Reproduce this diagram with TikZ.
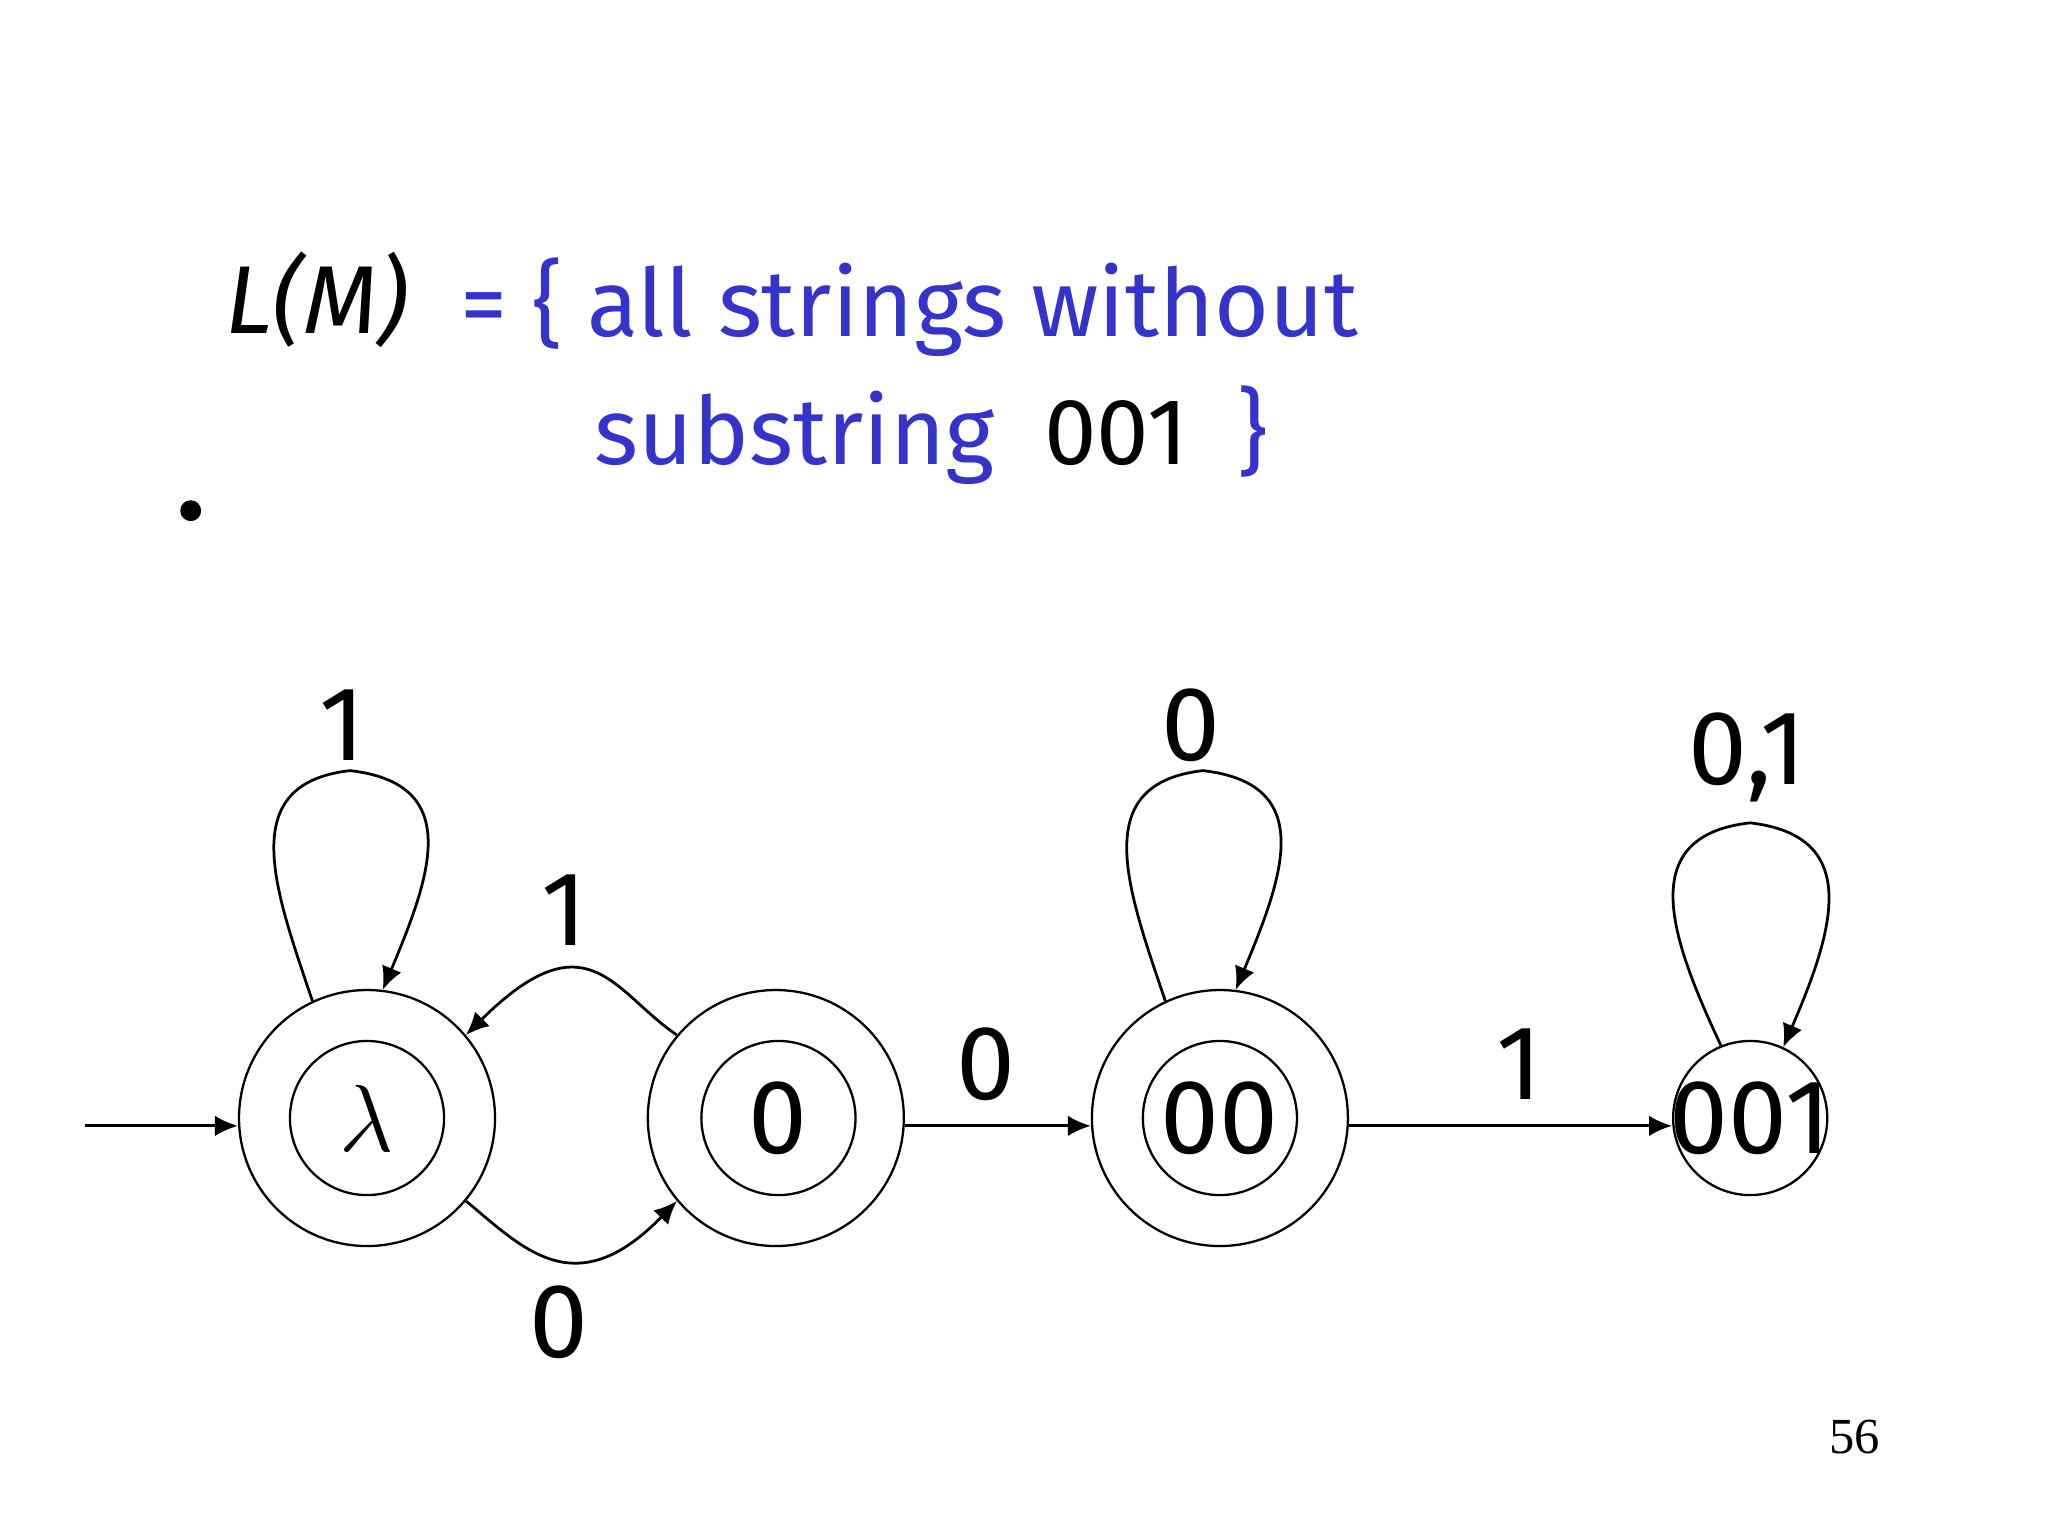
\documentclass[tikz,border=0pt]{standalone}
\usepackage{fontspec}
\setmainfont{Liberation Serif}
\newfontfamily\hand{Fira Sans}
\usetikzlibrary{arrows.meta}
\definecolor{tblue}{RGB}{52,52,204}
\begin{document}
\begin{tikzpicture}[x=0.01cm,y=-0.01cm,
  st/.style={circle,draw,line width=0.5pt,inner sep=0pt},
  lab/.style={font=\hand\fontsize{23}{28}\selectfont},
  ed/.style={-{Latex[length=5pt,width=4.5pt]},line width=0.6pt}]
\useasboundingbox (0,0) rectangle (1568,1176);
% title
\node[anchor=base west,font=\hand\itshape\fontsize{21}{26}\selectfont] (lm) at (160,255) {L(M)};
\node[anchor=base west,font=\hand\fontsize{20.5}{26}\selectfont,text=tblue] (t1) at (340,258) {= \{ all strings without};
\node[anchor=base west,font=\hand\fontsize{20.5}{26}\selectfont,text=tblue] (t2) at (443,356) {substring\ \ \textcolor{black}{001}\ \ \}};
\fill (146,391) circle (8);
% states
\node[st,minimum size=196*0.01cm] (l) at (281,856) {};
\node[st,minimum size=118*0.01cm] (li) at (281,856) {\fontsize{22}{26}\selectfont$\lambda$};
\node[st,minimum size=196*0.01cm] (z) at (594,856) {};
\node[st,minimum size=118*0.01cm,lab] (zi) at (596,856) {0};
\node[st,minimum size=196*0.01cm] (zz) at (934,856) {};
\node[st,minimum size=118*0.01cm,lab] (zzi) at (934,856) {00};
\node[st,minimum size=118*0.01cm] (f) at (1340,856) {};
\node[lab] (ft) at (1340,856) {001};
\coordinate (s) at (65,862);
\draw[ed] (s) -- (l.west|-s);
% transitions
\draw[ed] (l.-40) .. controls (400,955) and (440,1000) .. (z.220);
\node[lab] (a0) at (428,1012) {0};
\draw[ed] (z.140) .. controls (470,760) and (450,700) .. (l.40);
\node[lab] (a1) at (432,697) {1};
\draw[ed] (z.east|-s) -- (zz.west|-s);
\node[lab] (b0) at (755,815) {0};
\draw[ed] (zz.east|-s) -- (f.west|-s);
\node[lab] (c1) at (1163,815) {1};
% loops
\draw[ed] (l.115) .. controls (210,680) and (180,600) .. (268,590) .. controls (355,600) and (330,670) .. (l.83);
\node[lab] (d1) at (262,555) {1};
\draw[ed] (zz.115) .. controls (863,680) and (833,600) .. (921,590) .. controls (1008,600) and (983,670) .. (zz.83);
\node[lab] (d0) at (912,555) {0};
\draw[ed] (f.112) .. controls (1280,720) and (1250,640) .. (1340,630) .. controls (1425,640) and (1405,710) .. (f.65);
\node[lab] (d01) at (1338,580) {0,1};
\node[font=\fontsize{11}{13}\selectfont] (pg) at (1420,1100) {56};
\end{tikzpicture}
\end{document}
